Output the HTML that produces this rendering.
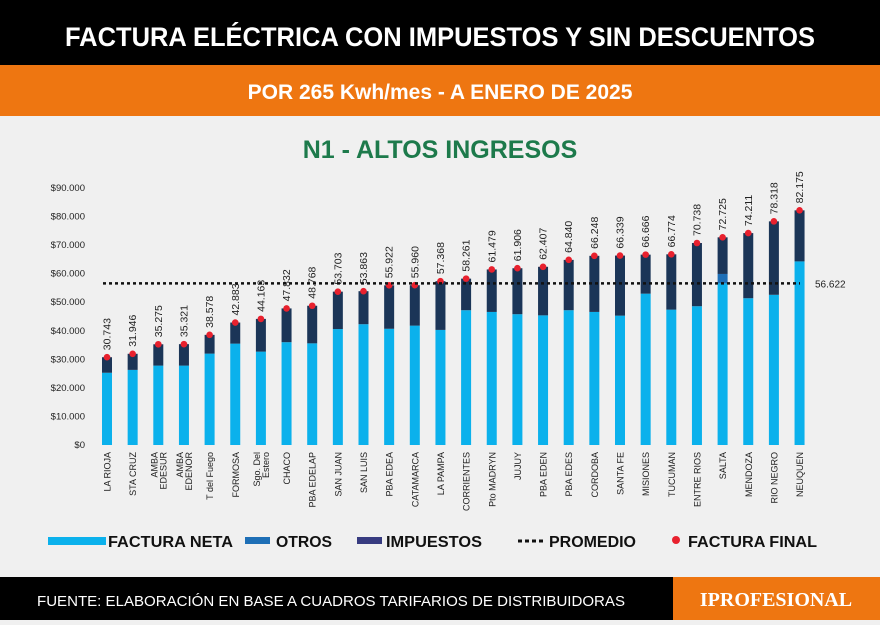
<!DOCTYPE html>
<html><head><meta charset="utf-8"><style>
body{margin:0;width:880px;height:620px;overflow:hidden;background:#f0f0f0;font-family:"Liberation Sans",sans-serif}
</style></head><body>
<svg width="880" height="620" xmlns="http://www.w3.org/2000/svg" id="chart">
<rect x="0" y="0" width="880" height="620" fill="#f0f0f0"/>
<rect x="0" y="0" width="880" height="65" fill="#000"/>
<text x="440" y="46" text-anchor="middle" fill="#fff" font-size="27" font-weight="bold" textLength="750" lengthAdjust="spacingAndGlyphs">FACTURA ELÉCTRICA CON IMPUESTOS Y SIN DESCUENTOS</text>
<rect x="0" y="65" width="880" height="51" fill="#ee7611"/>
<text x="440" y="99" text-anchor="middle" fill="#fff" font-size="21" font-weight="bold">POR 265 Kwh/mes - A ENERO DE 2025</text>
<text x="440" y="158" text-anchor="middle" fill="#1d7a4b" font-size="25" font-weight="bold">N1 - ALTOS INGRESOS</text>
<g id="yaxis"></g><g id="bars"></g><g id="labels"></g>
<g font-size="15.5" font-weight="bold" fill="#111">
<rect x="48" y="537" width="58" height="8" fill="#0bb1ec"/>
<text x="108" y="547" textLength="125" lengthAdjust="spacingAndGlyphs">FACTURA NETA</text>
<rect x="245" y="537" width="25" height="7" fill="#1e6fb6"/>
<text x="276" y="547" textLength="56" lengthAdjust="spacingAndGlyphs">OTROS</text>
<rect x="357" y="537" width="25" height="7" fill="#373b80"/>
<text x="386" y="547" textLength="96" lengthAdjust="spacingAndGlyphs">IMPUESTOS</text>
<line x1="518" y1="541" x2="545" y2="541" stroke="#111" stroke-width="3" stroke-dasharray="4,3"/>
<text x="549" y="547" textLength="87" lengthAdjust="spacingAndGlyphs">PROMEDIO</text>
<circle cx="676" cy="540" r="4" fill="#e8212e"/>
<text x="688" y="547" textLength="129" lengthAdjust="spacingAndGlyphs">FACTURA FINAL</text>
</g>
<rect x="0" y="577" width="880" height="43" fill="#000"/>
<text x="37" y="606" fill="#fff" font-size="14.5" textLength="588" lengthAdjust="spacingAndGlyphs">FUENTE: ELABORACIÓN EN BASE A CUADROS TARIFARIOS DE DISTRIBUIDORAS</text>
<rect x="673" y="577" width="207" height="43" fill="#ee7611"/>
<text x="776" y="606" text-anchor="middle" fill="#fff" font-size="20" font-weight="bold" font-family="Liberation Serif, serif">IPROFESIONAL</text>
</svg>
<script>
const categories=["LA RIOJA","STA CRUZ","AMBA|EDESUR","AMBA|EDENOR","T del Fuego","FORMOSA","Sgo. Del|Estero","CHACO","PBA EDELAP","SAN JUAN","SAN LUIS","PBA EDEA","CATAMARCA","LA PAMPA","CORRIENTES","Pto MADRYN","JUJUY","PBA EDEN","PBA EDES","CORDOBA","SANTA FE","MISIONES","TUCUMAN","ENTRE RIOS","SALTA","MENDOZA","RIO NEGRO","NEUQUEN"];
const totals=[30743,31946,35275,35321,38578,42883,44163,47832,48768,53703,53863,55922,55960,57368,58261,61479,61906,62407,64840,66248,66339,66666,66774,70738,72725,74211,78318,82175];
const totalLabels=["30.743","31.946","35.275","35.321","38.578","42.883","44.163","47.832","48.768","53.703","53.863","55.922","55.960","57.368","58.261","61.479","61.906","62.407","64.840","66.248","66.339","66.666","66.774","70.738","72.725","74.211","78.318","82.175"];
const neta=[25300,26300,27800,27800,32000,35500,32700,36000,35600,40600,42300,40700,41800,40300,47200,46600,45800,45400,47200,46600,45300,53000,47400,48600,56600,51400,52600,64300];
const otros=[0,0,0,0,0,0,0,0,0,0,0,0,0,0,0,0,0,0,0,0,0,0,0,0,3300,0,0,0];
const promedio=56622;
const yTicks=[0,10000,20000,30000,40000,50000,60000,70000,80000,90000];
const yTickLabels=["$0","$10.000","$20.000","$30.000","$40.000","$50.000","$60.000","$70.000","$80.000","$90.000"];
const NS="http://www.w3.org/2000/svg";
const y=v=>445-v*257/90000;
const x=i=>107+i*25.65;
function mk(tag,attrs,parent,txt){const e=document.createElementNS(NS,tag);for(const k in attrs)e.setAttribute(k,attrs[k]);if(txt!==undefined)e.textContent=txt;parent.appendChild(e);return e;}
const ya=document.getElementById('yaxis'),bg=document.getElementById('bars'),lg=document.getElementById('labels');
yTicks.forEach((t,i)=>{const e=mk('text',{x:85,y:y(t)+3,'text-anchor':'end','font-size':'9.5',fill:'#222'},ya,yTickLabels[i]);

});
categories.forEach((c,i)=>{
 const cx=x(i),w=10;
 const r1=mk('rect',{x:cx-w/2,y:y(neta[i]),width:w,height:445-y(neta[i]),fill:'#0bb1ec'},bg);
 
 
 const r2=mk('rect',{x:cx-w/2,y:y(neta[i]+otros[i]),width:w,height:y(neta[i])-y(neta[i]+otros[i]),fill:'#1e6fb6'},bg);
 
 
 const r3=mk('rect',{x:cx-w/2,y:y(totals[i]),width:w,height:y(neta[i]+otros[i])-y(totals[i]),fill:'#1b3557'},bg);
 
 
 const d=mk('circle',{cx:cx,cy:y(totals[i]),r:3.3,fill:'#e8212e'},lg);
 
 
 const tv=mk('text',{transform:`translate(${cx+3.5},${y(totals[i])-7}) rotate(-90)`,'font-size':'10.5',fill:'#222'},lg,totalLabels[i]);
 
 
 const parts=c.split('|');
 parts.forEach((p,j)=>{
  const off=parts.length===1?3.5:(j===0?-1:8);
  const t=mk('text',{transform:`translate(${cx+off},452) rotate(-90)`,'text-anchor':'end','font-size':'9',fill:'#222'},lg,p);
  
  
 });
});
const al=mk('line',{x1:103,x2:800,y1:y(promedio),y2:y(promedio),stroke:'#111','stroke-width':2.5,'stroke-dasharray':'3,3'},lg);


const at=mk('text',{x:815,y:y(promedio)+4,'font-size':'10',fill:'#222'},lg,'56.622');


</script>
</body></html>
